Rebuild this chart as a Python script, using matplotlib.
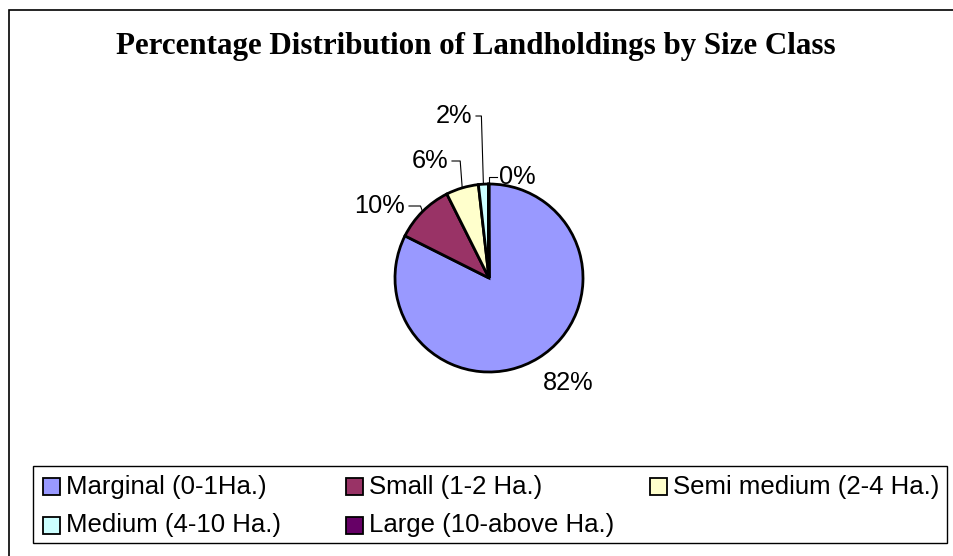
import numpy as np
import matplotlib.pyplot as plt
from matplotlib.patches import Rectangle

plt.rcParams['font.family'] = ['Liberation Sans', 'DejaVu Sans']

# 数据
categories = ['Marginal (0-1Ha.)', 'Small (1-2 Ha.)', 'Semi medium (2-4 Ha.)',
              'Medium (4-10 Ha.)', 'Large (10-above Ha.)']
shares = [82.4, 10.2, 5.6, 1.7, 0.1]
pct_labels = ['82%', '10%', '6%', '2%', '0%']
colors = ['#9999FF', '#993366', '#FFFFCC', '#CCFFFF', '#660066']

W, H = 954, 556
fig = plt.figure(figsize=(W / 100, H / 100), dpi=100)
fig.patch.set_facecolor('white')

# 整个画布用像素坐标
ax = fig.add_axes([0, 0, 1, 1])

def py(y):
    # 图片坐标(上->下) 转成 数据坐标
    return H - y

# 外框
ax.add_patch(Rectangle((9, py(10) - 600), 960, 600, fill=False,
                       edgecolor='black', linewidth=1.2, clip_on=False))

ax.text(W / 2 - 1, py(54), 'Percentage Distribution of Landholdings by Size Class',
        ha='center', va='baseline', fontsize=22.3, fontweight='bold',
        family='Liberation Serif')

cx, cy, r = 489, py(278), 94
wedges, _ = ax.pie(shares, colors=colors, startangle=90, counterclock=False,
                   center=(cx, cy), radius=r, frame=True,
                   wedgeprops=dict(edgecolor='black', linewidth=2.0))
ax.set_xlim(0, W)
ax.set_ylim(0, H)
ax.axis('off')

# 标签位置 (锚点, 对齐方式)
label_xy = [(568, 383), (405, 206), (448, 161), (472, 116), (499, 177)]
label_ha = ['center', 'right', 'right', 'right', 'left']

for i, w in enumerate(wedges):
    lx, ly = label_xy[i]
    ax.text(lx, py(ly), pct_labels[i], ha=label_ha[i], va='center', fontsize=18.3)
    if i == 0:
        continue
    mid = np.radians((w.theta1 + w.theta2) / 2)
    ex, ey = cx + r * np.cos(mid), cy + r * np.sin(mid)
    if label_ha[i] == 'right':
        sx = lx + 4
        kx = ex - 2
    else:
        sx = lx - 2
        kx = ex
    ax.plot([sx, kx, ex], [py(ly), py(ly), ey], color='black', linewidth=0.8)

# 图例 (Excel 风格: 等宽列, 按行排列)
ax.add_patch(Rectangle((33, py(543)), 947 - 33, 543 - 466, fill=False,
                       edgecolor='black', linewidth=1.0))
col_w, row_h = 303.5, 38
for k, name in enumerate(categories):
    row, col = divmod(k, 3)
    mx = 43 + col * col_w
    my = 487 + row * row_h
    ax.add_patch(Rectangle((mx, py(my + 8.5)), 17, 17, facecolor=colors[k],
                           edgecolor='black', linewidth=1.3))
    ax.text(mx + 23, py(my), name, ha='left', va='center', fontsize=18.5)

fig.savefig('out.png', dpi=100)
